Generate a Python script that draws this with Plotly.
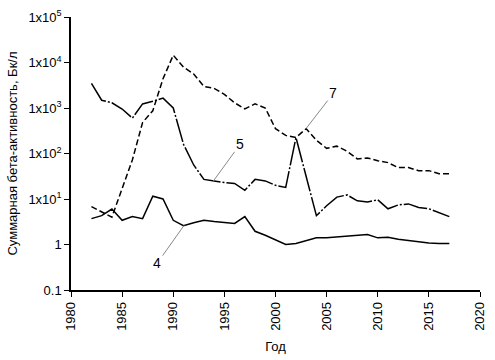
import math
import plotly.graph_objects as go

years = list(range(1982, 2018))

# Series 4 (solid, lower)
s4 = [3.7, 4.3, 6.0, 3.4, 4.1, 3.7, 11.5, 10.0, 3.4, 2.6, 3.0, 3.4, 3.2, 3.0, 2.9, 4.1,
      1.95, 1.6, 1.25, 1.0, 1.05, 1.2, 1.4, 1.4, 1.45, 1.55, 1.55, 1.65, 1.4, 1.45, 1.3,
      1.22, 1.15, 1.08, 1.05, 1.05]

# Series 5 (long dash-dot, upper solid start)
s5 = [3460, 1480, 1300, 950, 600, 1230, 1400, 1650, 1000, 160, 56, 27, 25, 23, 22, 15.5,
      27, 25, 20, 18, 225, 30, 4.3, 7.1, 11, 12.3, 9.1, 8.6, 9.6, 6.1, 7.4, 7.8, 6.5, 6.1,
      5.0, 4.1]

# Series 7 (dashed)
s7 = [6.8, 5.2, 4.0, 17, 72, 480, 870, 4400, 14500, 7900, 5600, 2970, 2700, 2000, 1300,
      960, 1230, 1000, 350, 250, 225, 350, 195, 130, 145, 112, 76, 80, 69, 63, 49, 49, 42,
      42, 36, 36]

ytick_vals = [0.1, 1, 10, 100, 1000, 10000, 100000]
ytick_text = ["0.1", "1", "1x10<sup>1</sup>", "1x10<sup>2</sup>", "1x10<sup>3</sup>",
              "1x10<sup>4</sup>", "1x10<sup>5</sup>"]
xtick_vals = list(range(1980, 2021, 5))

# label annotations: (label, year, value, ax, ay)
labels = [("5", 1993.9, 24.5, 27, -37), ("4", 1991.06, 2.63, -27, 38),
          ("7", 2003.0, 355, 27, -35)]

fig = go.Figure()
fig.add_trace(go.Scatter(x=years, y=s7, mode="lines",
                         line=dict(color="black", width=1.5, dash="6px,3px")))
fig.add_trace(go.Scatter(x=years, y=s5, mode="lines",
                         line=dict(color="black", width=1.5, dash="24px,2px,2px,2px")))
fig.add_trace(go.Scatter(x=years, y=s4, mode="lines",
                         line=dict(color="black", width=1.5)))

for lab, x, y, ax, ay in labels:
    fig.add_annotation(x=x, y=math.log10(y), text=lab, showarrow=True,
                       arrowhead=0, arrowwidth=1, arrowcolor="#888888", ax=ax, ay=ay,
                       font=dict(size=14, color="black"))

font = "Liberation Sans, Arial, sans-serif"
fig.update_layout(
    width=495, height=360,
    margin=dict(l=71, r=8, t=14, b=67),
    paper_bgcolor="white", plot_bgcolor="white",
    showlegend=False,
    font=dict(family=font, size=13, color="black"),
    xaxis=dict(range=[1980, 2020], tickvals=xtick_vals, tickangle=-90,
               showgrid=False, zeroline=False, showline=True, linecolor="black",
               linewidth=1.5, ticks="outside", ticklen=5, tickcolor="black",
               title=dict(text="Год", font=dict(size=13), standoff=12)),
    yaxis=dict(type="log", range=[-1, 5], tickvals=ytick_vals, ticktext=ytick_text,
               showgrid=False, zeroline=False, showline=True, linecolor="black",
               linewidth=1.5, ticks="outside", ticklen=5, tickcolor="black",
               title=dict(text="Суммарная бета-активность, Бк/л", font=dict(size=13),
                          standoff=8)),
)

fig.write_html("out.html")
